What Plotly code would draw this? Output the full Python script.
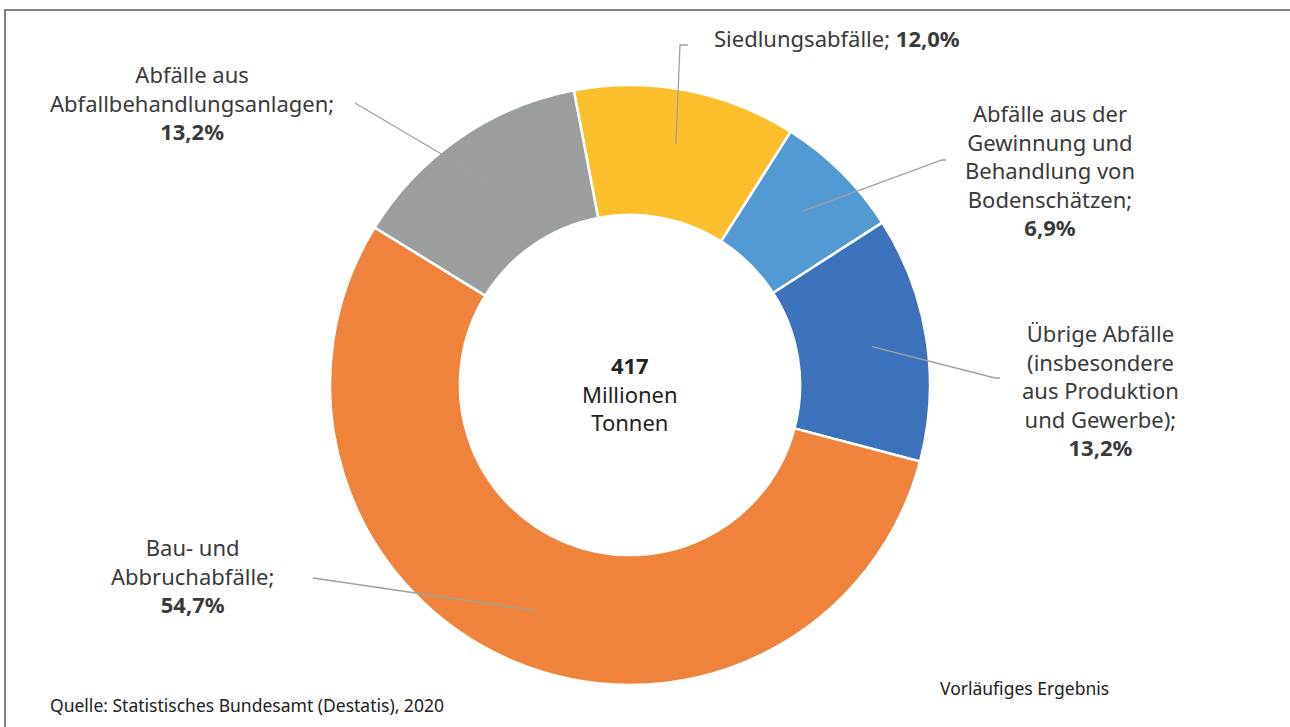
import math
import plotly.graph_objects as go

# Abfallaufkommen nach Abfallarten (Anteile in %)
labels = ["Siedlungsabfälle",
          "Abfälle aus der<br>Gewinnung und<br>Behandlung von<br>Bodenschätzen",
          "Übrige Abfälle<br>(insbesondere<br>aus Produktion<br>und Gewerbe)",
          "Bau- und<br>Abbruchabfälle",
          "Abfälle aus<br>Abfallbehandlungsanlagen"]
shares = [12.0, 6.9, 13.2, 54.7, 13.2]
colors = ["#FCBE2B", "#519AD4", "#3C72BB", "#F0833C", "#9B9E9F"]
total = 417

W, H = 1290, 727
cx, cy, R = 630, 385, 300
start = -10.8

# label centre (px) and leader line elbow / end points
label_pos = [(837, 38), (1050, 170), (1100, 390), (192, 575), (192, 102)]
elbow = [[(680, 45), (688, 45)], [(942, 160), (946, 160)],
         [(995, 378), (1000, 378)], [(313, 578)], [(355, 103)]]


def px(x, y):
    return x / W, 1 - y / H


fig = go.Figure(go.Pie(
    values=shares, labels=labels, sort=False, direction="clockwise",
    rotation=start, hole=0.567, textinfo="none", showlegend=False,
    marker=dict(colors=colors, line=dict(color="white", width=2.5)),
    domain=dict(x=[px(cx - R, 0)[0], px(cx + R, 0)[0]],
                y=[px(0, cy + R)[1], px(0, cy - R)[1]]),
))

font = "Noto Sans, Open Sans, sans-serif"
ann = []
shapes = []
cum = start
for lab, v, pos, pts in zip(labels, shares, label_pos, elbow):
    mid = math.radians(cum + v * 3.6 / 2)
    cum += v * 3.6
    r = 245
    p0 = (cx + r * math.sin(mid), cy - r * math.cos(mid))
    d = "M " + " L ".join("{},{}".format(*px(a, b)) for a, b in [p0] + pts)
    shapes.append(dict(type="path", xref="paper", yref="paper", path=d,
                       line=dict(color="#A0A0A0", width=1.3)))
    pct = f"{v:.1f}".replace(".", ",")
    sep = "; " if "<br>" not in lab else ";<br>"
    x, y = px(*pos)
    ann.append(dict(text=f"{lab}{sep}<b>{pct}%</b>", x=x, y=y, xref="paper", yref="paper",
                    showarrow=False, align="center", xanchor="center", yanchor="middle",
                    font=dict(size=22, color="#3A3A3A", family=font)))

x, y = px(cx, 393)
ann.append(dict(text=f"<b>{total}</b><br>Millionen<br>Tonnen", x=x, y=y, xref="paper",
                yref="paper", showarrow=False, align="center", xanchor="center",
                yanchor="middle", font=dict(size=22, color="#222222", family=font)))
x, y = px(48, 705)
ann.append(dict(text="Quelle: Statistisches Bundesamt (Destatis), 2020", x=x, y=y,
                xref="paper", yref="paper", showarrow=False, xanchor="left",
                yanchor="middle", font=dict(size=17.5, color="#222222", family=font)))
x, y = px(938, 688)
ann.append(dict(text="Vorläufiges Ergebnis", x=x, y=y, xref="paper", yref="paper",
                showarrow=False, xanchor="left", yanchor="middle",
                font=dict(size=17.5, color="#222222", family=font)))

# frame (top and left edge)
fx, fy = px(5, 10)
shapes.append(dict(type="path", xref="paper", yref="paper",
                   path=f"M {fx},0 L {fx},{fy} L 1,{fy}",
                   line=dict(color="#5A5A5A", width=1.5)))

fig.update_layout(width=W, height=H, margin=dict(l=0, r=0, t=0, b=0),
                  paper_bgcolor="white", plot_bgcolor="white",
                  annotations=ann, shapes=shapes)

# drop the default page margin / scrollbars so the figure fills the window
fig.write_html("out.html", config={"displayModeBar": False},
               post_script="document.body.style.margin='0';"
                           "document.documentElement.style.overflow='hidden';"
                           "document.body.style.overflow='hidden';")
